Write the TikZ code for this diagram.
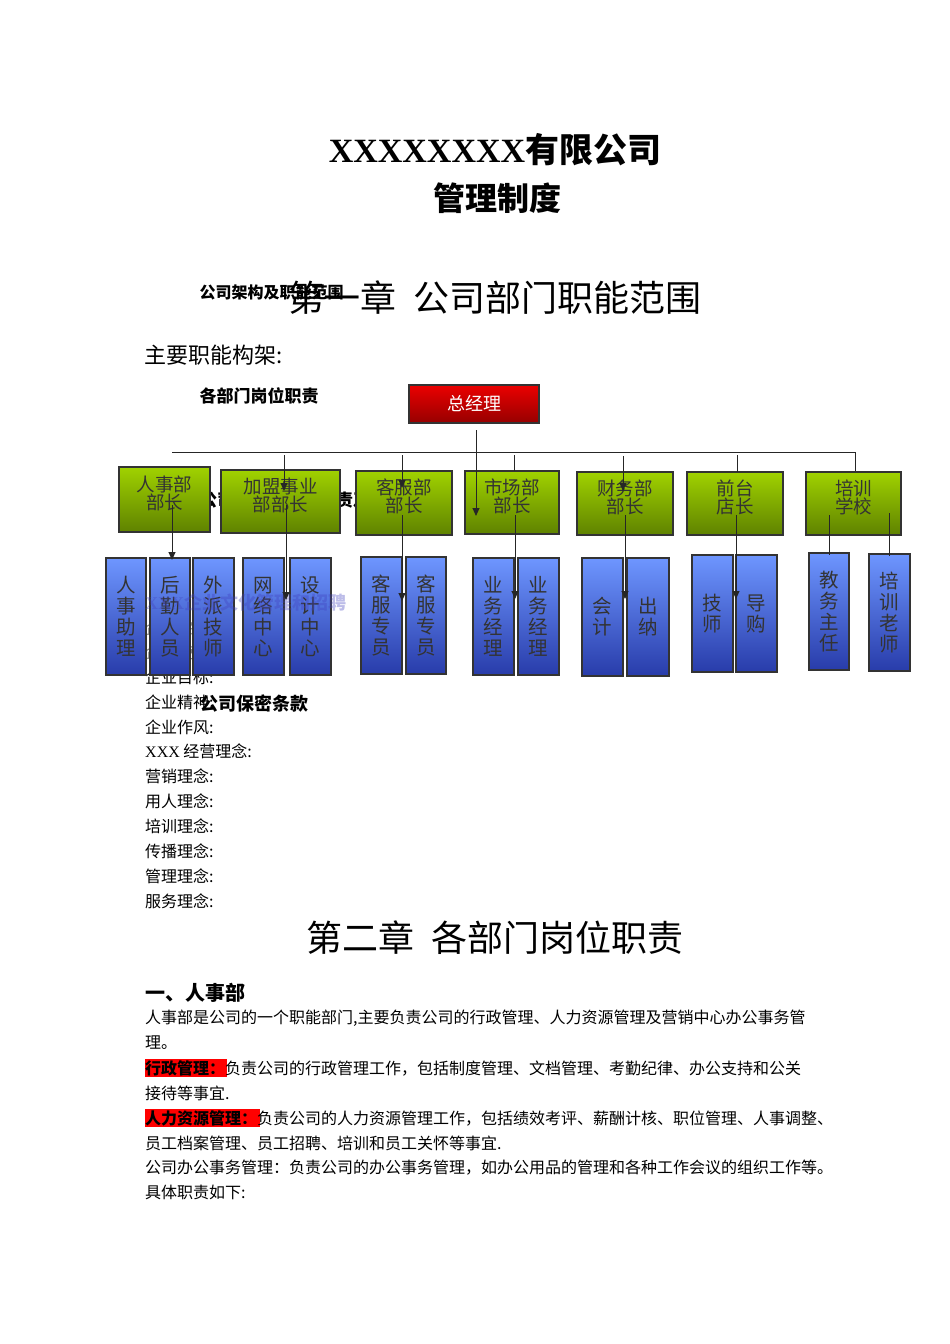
\documentclass[tikz,border=0pt]{standalone}
\usepackage{fontspec}
\setmainfont{Noto Sans CJK SC}
\newfontfamily\serifx{Liberation Serif}
\usetikzlibrary{arrows.meta}
\definecolor{gtop}{RGB}{160,210,0}
\definecolor{gbot}{RGB}{95,130,0}
\definecolor{btop}{RGB}{110,150,255}
\definecolor{bbot}{RGB}{40,60,170}
\definecolor{rtop}{RGB}{235,0,0}
\definecolor{rbot}{RGB}{150,0,0}
\tikzset{
 gbox/.style={draw=black!80,line width=1.2pt,top color=gtop,bottom color=gbot,font=\fontsize{18.5}{18}\selectfont,text=black!80,align=center,inner sep=0pt},
 bbox/.style={draw=black!80,line width=1.2pt,top color=btop,bottom color=bbot,font=\fontsize{19.5}{21}\selectfont,text=black!80,align=center,inner sep=0pt},
 rbox/.style={draw=black!80,line width=1.2pt,top color=rtop,bottom color=rbot,font=\fontsize{18}{18}\selectfont,text=white,inner sep=0pt},
 conn/.style={line width=0.9pt,black!85},
 arr/.style={conn,-{Triangle[length=8pt,width=7pt]}},
 body/.style={anchor=west,font=\fontsize{16}{16}\selectfont,inner sep=0pt},
}
\begin{document}
\begin{tikzpicture}[x=1pt,y=-1pt]
\useasboundingbox (0,0) rectangle (950,1344);
\fill[white] (0,0) rectangle (950,1344);
% titles
\node (t1) at (495,150) {\fontsize{34}{34}\selectfont\bfseries{\serifx XXXXXXXX}有限公司};
\node (t2) at (497,198) {\fontsize{32}{32}\selectfont\bfseries 管理制度};
\node[anchor=west,font=\fontsize{16}{16}\selectfont\bfseries] (s1) at (196,292) {公司架构及职能范围};
\node (ch1) at (495,298) {\fontsize{36}{36}\selectfont 第一章\ \ 公司部门职能范围};
\node[anchor=west,font=\fontsize{22}{22}\selectfont] (s2) at (141,355) {主要职能构架:};
\node[anchor=west,font=\fontsize{17}{17}\selectfont\bfseries] (s3) at (196,396) {各部门岗位职责};
% hidden texts
\node[anchor=west,font=\fontsize{17}{17}\selectfont\bfseries,inner sep=0pt] (h1) at (200,500) {公司各部门岗位职责及};
\node[body,text=gray] (h3) at (145,628) {企业宗旨:};
\node[body,text=gray] (h4) at (145,652) {企业使命:};
\node[body] (l1) at (145,677) {企业目标:};
\node[body] (l2) at (145,702) {企业精神:};
\node[anchor=west,font=\fontsize{18}{18}\selectfont\bfseries,inner sep=0pt] (bm) at (200,704) {公司保密条款};
\node[body] (l3) at (145,727) {企业作风:};
\node[body] (l4) at (145,751) {{\serifx XXX} 经营理念:};
\node[body] (l5) at (145,776) {营销理念:};
\node[body] (l6) at (145,801) {用人理念:};
\node[body] (l7) at (145,826) {培训理念:};
\node[body] (l8) at (145,851) {传播理念:};
\node[body] (l9) at (145,876) {管理理念:};
\node[body] (l10) at (145,901) {服务理念:};
% top
\node[rbox,minimum width=130pt,minimum height=38pt] (gm) at (474,404) {总经理};
\coordinate (hl) at (172,452);
\coordinate (hr) at (855,452);
\draw[conn] (hl) -- (hr) -- (855,472);
% green
\node[gbox,minimum width=91pt,minimum height=65pt,text depth=14pt] (g1) at (164.5,499.5) {人事部\\部长};
\node[gbox,minimum width=119pt,minimum height=63pt,text depth=14pt] (g2) at (280.5,501.5) {加盟事业\\部部长};
\node[gbox,minimum width=96pt,minimum height=64pt,text depth=14pt] (g3) at (404,503) {客服部\\部长};
\node[gbox,minimum width=94pt,minimum height=63pt,text depth=14pt] (g4) at (512,502.5) {市场部\\部长};
\node[gbox,minimum width=96pt,minimum height=63pt,text depth=14pt] (g5) at (625,503.5) {财务部\\部长};
\node[gbox,minimum width=96pt,minimum height=63pt,text depth=14pt] (g6) at (735,503.5) {前台\\店长};
\node[gbox,minimum width=95pt,minimum height=63pt,text depth=14pt] (g7) at (853.5,503.5) {培训\\学校};
% blue
\node[bbox,minimum width=40pt,minimum height=117pt] (b1) at (126,616.5) {人\\事\\助\\理};
\node[bbox,minimum width=40pt,minimum height=117pt] (b2) at (170,616.5) {后\\勤\\人\\员};
\node[bbox,minimum width=41pt,minimum height=117pt] (b3) at (213.5,616.5) {外\\派\\技\\师};
\node[bbox,minimum width=41pt,minimum height=117pt] (b4) at (263.5,616.5) {网\\络\\中\\心};
\node[bbox,minimum width=41pt,minimum height=117pt] (b5) at (310.5,616.5) {设\\计\\中\\心};
\node[bbox,minimum width=41pt,minimum height=117pt] (b6) at (381.5,615.5) {客\\服\\专\\员};
\node[bbox,minimum width=40pt,minimum height=117pt] (b7) at (426,615.5) {客\\服\\专\\员};
\node[bbox,minimum width=41pt,minimum height=117pt] (b8) at (493.5,616.5) {业\\务\\经\\理};
\node[bbox,minimum width=41pt,minimum height=117pt] (b9) at (538.5,616.5) {业\\务\\经\\理};
\node[bbox,minimum width=41pt,minimum height=118pt] (b10) at (602.5,617) {会\\计};
\node[bbox,minimum width=42pt,minimum height=118pt] (b11) at (648,617) {出\\纳};
\node[bbox,minimum width=41pt,minimum height=117pt] (b12) at (712.5,613.5) {技\\师};
\node[bbox,minimum width=41pt,minimum height=117pt] (b13) at (756.5,613.5) {导\\购};
\node[bbox,minimum width=40pt,minimum height=117pt] (b14) at (829,611.5) {教\\务\\主\\任};
\node[bbox,minimum width=41pt,minimum height=117pt] (b15) at (889.5,612.5) {培\\训\\老\\师};
\node[anchor=west,font=\fontsize{18}{18}\selectfont\bfseries,text=blue!50!gray,opacity=0.35,inner sep=0pt] (h2) at (145,603) {{\serifx XXX}企业文化管理和招聘};
% connectors
\coordinate (c0) at (476,430);
\coordinate (c0e) at (476,516);
\draw[arr] (c0) -- (c0e);
\coordinate (c1) at (284,455); \coordinate (c1e) at (284,491); \draw[arr] (c1) -- (c1e);
\coordinate (c2) at (402,455); \coordinate (c2e) at (402,488); \draw[arr] (c2) -- (c2e);
\coordinate (c3) at (514,455); \coordinate (c3e) at (514,471); \draw[conn] (c3) -- (c3e);
\coordinate (c4) at (623,456); \coordinate (c4e) at (623,491); \draw[arr] (c4) -- (c4e);
\coordinate (c5) at (737,455); \coordinate (c5e) at (737,472); \draw[conn] (c5) -- (c5e);
\coordinate (d1) at (172,505); \coordinate (d1e) at (172,560); \draw[arr] (d1) -- (d1e);
\coordinate (d2) at (286,505); \coordinate (d2e) at (286,600); \draw[arr] (d2) -- (d2e);
\coordinate (d3) at (402,515); \coordinate (d3e) at (402,601); \draw[arr] (d3) -- (d3e);
\coordinate (d4) at (515,515); \coordinate (d4e) at (515,599); \draw[arr] (d4) -- (d4e);
\coordinate (d5) at (625,515); \coordinate (d5e) at (625,599); \draw[arr] (d5) -- (d5e);
\coordinate (d6) at (736,515); \coordinate (d6e) at (736,599); \draw[arr] (d6) -- (d6e);
\coordinate (d7) at (829,515); \coordinate (d7e) at (829,555); \draw[conn] (d7) -- (d7e);
\coordinate (d8) at (889,513); \coordinate (d8e) at (889,556); \draw[conn] (d8) -- (d8e);
% chapter 2
\node (ch2) at (495,938) {\fontsize{36}{36}\selectfont 第二章\ \ 各部门岗位职责};
\node[anchor=west,font=\fontsize{20}{20}\selectfont\bfseries,inner sep=0pt] (p0) at (145,993) {一、人事部};
\fill[red] (145,1059) rectangle (227,1077);
\fill[red] (145,1109) rectangle (260,1127);
\node[body] (p1) at (145,1018) {人事部是公司的一个职能部门,主要负责公司的行政管理、人力资源管理及营销中心办公事务管};
\node[body] (p2) at (145,1043) {理。};
\node[body] (p3) at (145,1068) {\textbf{行政管理：}负责公司的行政管理工作，包括制度管理、文档管理、考勤纪律、办公支持和公关};
\node[body] (p4) at (145,1093) {接待等事宜.};
\node[body] (p5) at (145,1118) {\textbf{人力资源管理：}负责公司的人力资源管理工作，包括绩效考评、薪酬计核、职位管理、人事调整、};
\node[body] (p6) at (145,1143) {员工档案管理、员工招聘、培训和员工关怀等事宜.};
\node[body] (p7) at (145,1168) {公司办公事务管理：负责公司的办公事务管理，如办公用品的管理和各种工作会议的组织工作等。};
\node[body] (p8) at (145,1192) {具体职责如下:};
\end{tikzpicture}
\end{document}
